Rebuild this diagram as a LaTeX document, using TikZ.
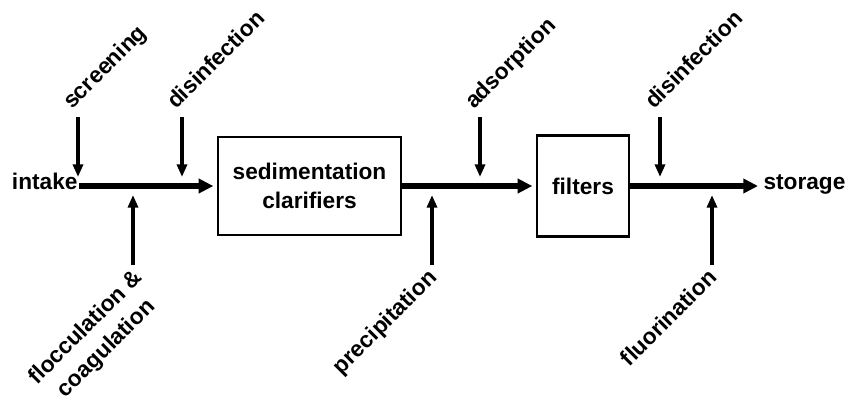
\documentclass[tikz,border=0pt]{standalone}
\usepackage{fontspec}
\setmainfont{Liberation Sans}
\usetikzlibrary{arrows.meta}

\tikzset{every picture/.style={line width=0.75pt}}
\tikzset{
  txt/.style={inner sep=0.75pt, font=\bfseries\fontsize{17}{22}\selectfont},
  inline/.style={txt, text height=1ex, text depth=0pt},
  tilted/.style={txt, rotate=45, align=center},
  procbox/.style={draw, line width=2pt, inner sep=0pt, align=center, font=\bfseries\fontsize{17}{22}\selectfont},
  flow/.style={line width=3.8pt, -{Triangle[length=11pt,width=10.5pt]}, shorten >=2.5pt},
  feed/.style={line width=2.8pt, -{Triangle[length=9.5pt,width=7.5pt]}},
}

\begin{document}
\begin{tikzpicture}[x=0.75pt,y=0.75pt,yscale=-1,xscale=1]
\useasboundingbox (0,0) rectangle (848,397);

%Shape: Rectangle
\node [procbox, minimum width=137.25pt, minimum height=73.5pt] (sed) at (309.5,186) {sedimentation\\clarifiers};
%Shape: Rectangle
\node [procbox, minimum width=69pt, minimum height=75.75pt] (filt) at (583,186) {filters};

% Text Node
\node [inline, anchor=east] (intake) at (79,186) {intake};
% Text Node
\node [inline, anchor=west] (storage) at (762,186) {storage};

%Straight Lines
\draw [flow] (intake.east) -- (sed.west);
%Straight Lines
\draw [flow] (sed.east) -- (filt.west);
%Straight Lines
\draw [flow, shorten >=3pt] (filt.east) -- (storage.west);

% feeds from above
\coordinate (scrTop) at (78,117);
\coordinate (scrEnd) at (78,177);
\coordinate (disATop) at (182,117);
\coordinate (disAEnd) at (182,177);
\coordinate (adsTop) at (480,117);
\coordinate (adsEnd) at (480,177);
\coordinate (disBTop) at (660,117);
\coordinate (disBEnd) at (660,177);
%Straight Lines
\draw [feed] (scrTop) -- (scrEnd);
\draw [feed] (disATop) -- (disAEnd);
\draw [feed] (adsTop) -- (adsEnd);
\draw [feed] (disBTop) -- (disBEnd);

% feeds from below
\coordinate (flocBot) at (133,265);
\coordinate (flocEnd) at (133,195);
\coordinate (precBot) at (432,265);
\coordinate (precEnd) at (432,195);
\coordinate (fluoBot) at (712,265);
\coordinate (fluoEnd) at (712,195);
%Straight Lines
\draw [feed] (flocBot) -- (flocEnd);
\draw [feed] (precBot) -- (precEnd);
\draw [feed] (fluoBot) -- (fluoEnd);

% Text Node
\node [tilted, anchor=base west] (scr) at ([shift={(-7,-6)}]scrTop) {screening};
% Text Node
\node [tilted, anchor=base west] (disA) at ([shift={(-7,-6)}]disATop) {disinfection};
% Text Node
\node [tilted, anchor=base west] (ads) at ([shift={(-7,-6)}]adsTop) {adsorption};
% Text Node
\node [tilted, anchor=base west] (disB) at ([shift={(-7,-6)}]disBTop) {disinfection};
% Text Node
\node [tilted, anchor=base east] (floc) at ([shift={(32,34)}]flocBot) {flocculation \&\\coagulation};
% Text Node
\node [tilted, anchor=base east] (prec) at ([shift={(7,13)}]precBot) {precipitation};
% Text Node
\node [tilted, anchor=base east] (fluo) at ([shift={(7,13)}]fluoBot) {fluorination};

\end{tikzpicture}
\end{document}
